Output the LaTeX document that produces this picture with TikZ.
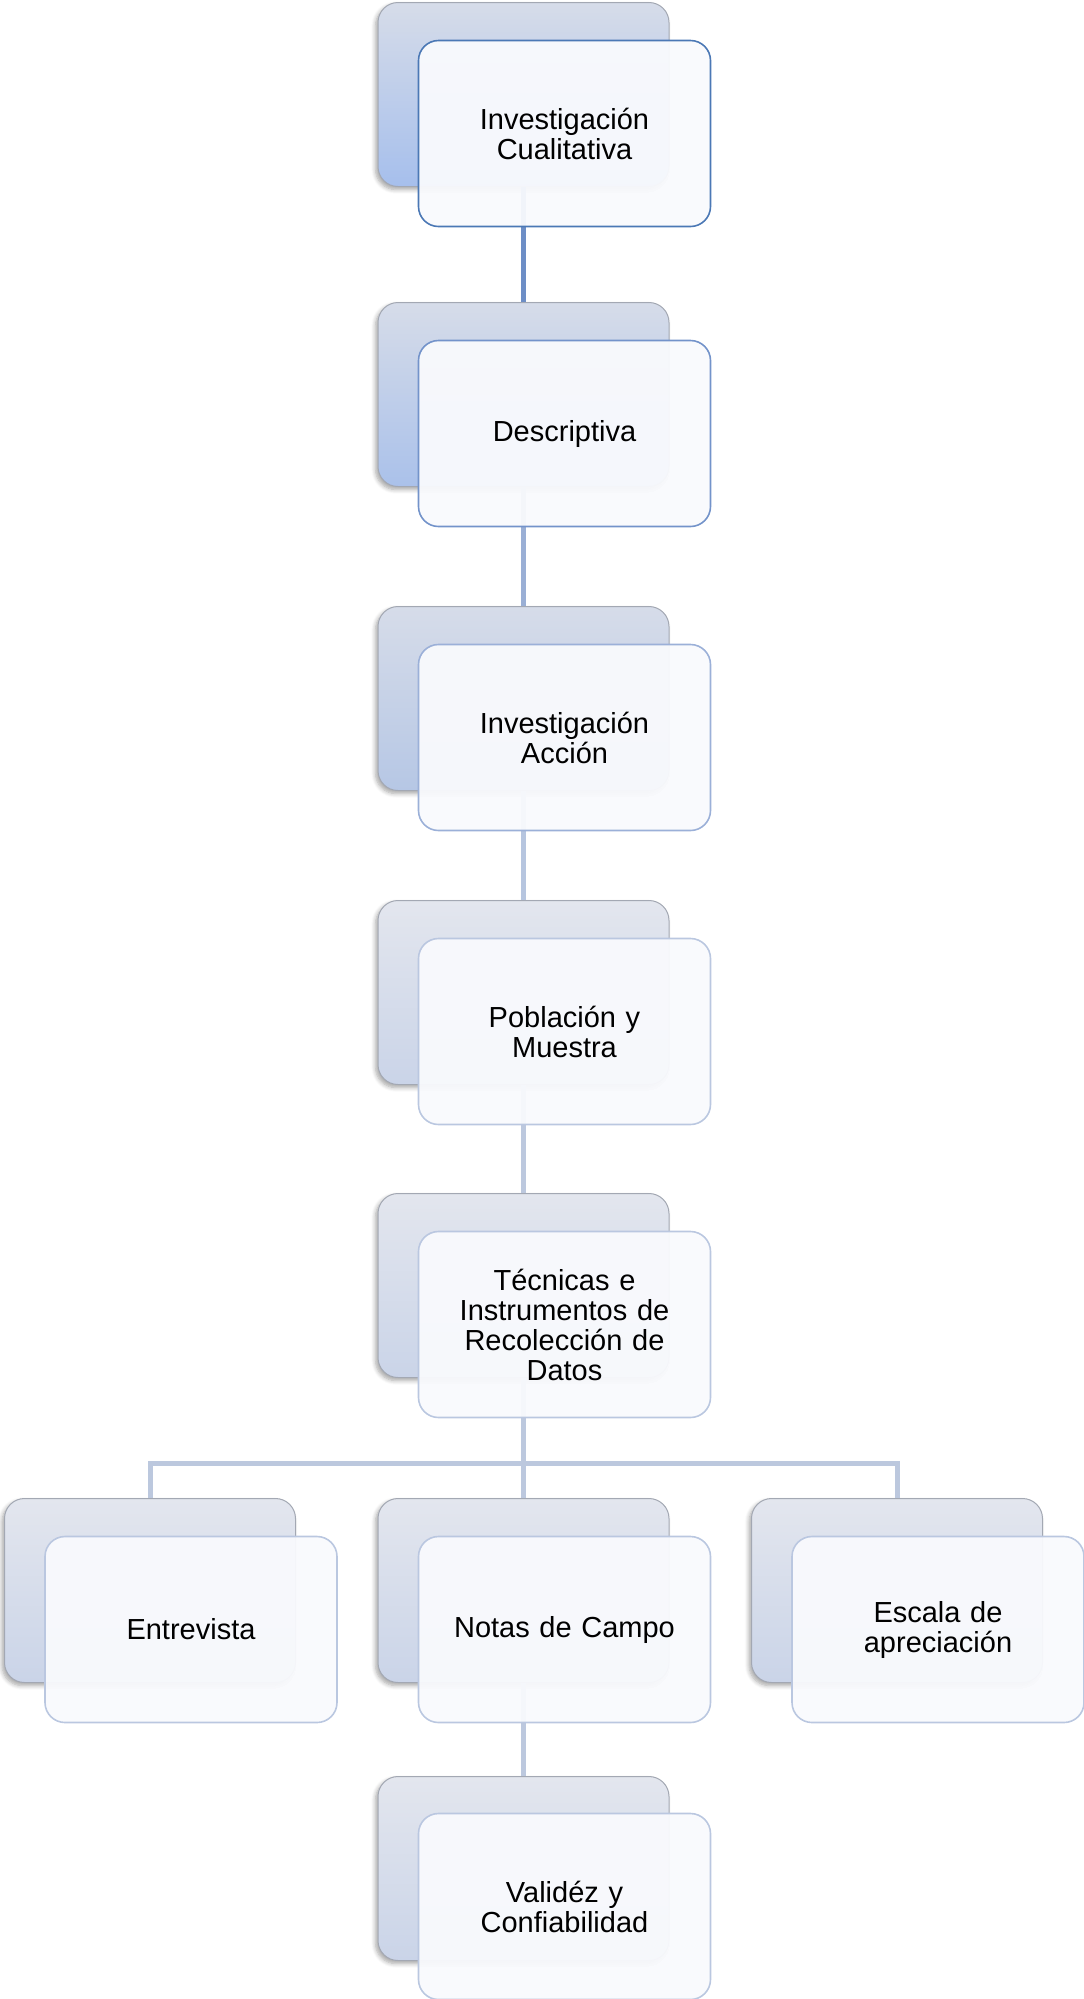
\documentclass[tikz,border=0pt]{standalone}
\usepackage{fontspec}
\setmainfont{Liberation Sans}
\usetikzlibrary{shadows.blur}
\definecolor{backline}{HTML}{A3A8B3}
\definecolor{frontfill}{HTML}{F9FAFD}
\definecolor{topA}{HTML}{D6DCE9}
\definecolor{botA}{HTML}{A6BFEC}
\definecolor{botB}{HTML}{AAC1EA}
\definecolor{botC}{HTML}{B6C7E5}
\definecolor{topD}{HTML}{E3E6EE}
\definecolor{botD}{HTML}{CAD4E8}
\definecolor{edgeA}{HTML}{4B78B5}
\definecolor{edgeB}{HTML}{7393CA}
\definecolor{edgeC}{HTML}{9BB0D8}
\definecolor{edgeD}{HTML}{BAC7E0}
\definecolor{lineA}{HTML}{6D8EC6}
\definecolor{lineB}{HTML}{9AAFD5}
\definecolor{lineC}{HTML}{B6C5DF}
\definecolor{lineD}{HTML}{BCC8DE}
\begin{document}
\begin{tikzpicture}[x=0.5pt,y=-0.5pt,
  backbox/.style={rounded corners=10pt, minimum width=145.5pt, minimum height=92pt,
    draw=backline, line width=0.5pt,
    blur shadow={shadow xshift=-1.2pt, shadow yshift=-1.5pt, shadow blur steps=6, shadow opacity=35}},
  frontbox/.style={rounded corners=10pt, minimum width=146pt, minimum height=93pt,
    line width=0.8pt, fill=frontfill, fill opacity=0.95, text opacity=1, align=center,
    font=\fontsize{14.5}{15}\selectfont, text width=135pt},
  conn/.style={line width=2.5pt, line join=miter}
]
\useasboundingbox (0,0) rectangle (1083,1999);

% back boxes
\node[backbox, top color=topA, bottom color=botA] (b1) at (523.5,94.5) {};
\node[backbox, top color=topA, bottom color=botB] (b2) at (523.5,394.5) {};
\node[backbox, top color=topA, bottom color=botC] (b3) at (523.5,698.5) {};
\node[backbox, top color=topD, bottom color=botD] (b4) at (523.5,992.5) {};
\node[backbox, top color=topD, bottom color=botD] (b5) at (523.5,1285.5) {};
\node[backbox, top color=topD, bottom color=botD] (b6l) at (150,1590.5) {};
\node[backbox, top color=topD, bottom color=botD] (b6c) at (523.5,1590.5) {};
\node[backbox, top color=topD, bottom color=botD] (b6r) at (897,1590.5) {};
\node[backbox, top color=topD, bottom color=botD] (b7) at (523.5,1868.5) {};

% connectors
\coordinate (hub) at (523.5,1463);
\draw[conn, draw=lineA] (b1.south) -- (b2.north);
\draw[conn, draw=lineB] (b2.south) -- (b3.north);
\draw[conn, draw=lineC] (b3.south) -- (b4.north);
\draw[conn, draw=lineD] (b4.south) -- (b5.north);
\draw[conn, draw=lineD] (b5.south) -- (b6c.north);
\draw[conn, draw=lineD] (b6l.north) |- (hub) -| (b6r.north);
\draw[conn, draw=lineD] (b6c.south) -- (b7.north);

% front boxes
\node[frontbox, draw=edgeA] (f1) at (564.5,133.5) {Investigación\\Cualitativa};
\node[frontbox, draw=edgeB] (f2) at (564.5,433.5) {Descriptiva};
\node[frontbox, draw=edgeC] (f3) at (564.5,737.5) {Investigación\\Acción};
\node[frontbox, draw=edgeD] (f4) at (564.5,1031.5) {Población y\\Muestra};
\node[frontbox, draw=edgeD] (f5) at (564.5,1324.5) {Técnicas e\\Instrumentos de\\Recolección de\\Datos};
\node[frontbox, draw=edgeD] (f6l) at (191,1629.5) {Entrevista};
\node[frontbox, draw=edgeD] (f6c) at (564.5,1629.5) {Notas de Campo};
\node[frontbox, draw=edgeD] (f6r) at (938,1629.5) {Escala de\\apreciación};
\node[frontbox, draw=edgeD] (f7) at (564.5,1906.5) {Validéz y\\Confiabilidad};
\end{tikzpicture}
\end{document}
